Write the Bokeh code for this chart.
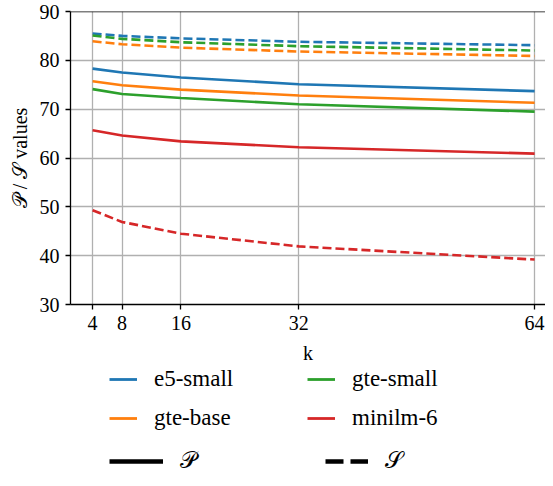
from bokeh.plotting import figure
from bokeh.layouts import column
from bokeh.models import Legend, LegendItem, Span, FixedTicker, Range1d
from bokeh.embed import file_html
from bokeh.resources import INLINE

# ---- data ----
k = [4, 8, 16, 32, 64]
models = ["e5-small", "gte-base", "gte-small", "minilm-6"]
colors = ["#1f77b4", "#ff7f0e", "#2ca02c", "#d62728"]

P_e5_small = [78.3, 77.5, 76.5, 75.1, 73.7]
P_gte_base = [75.7, 74.9, 74.0, 72.8, 71.3]
P_gte_small = [74.1, 73.1, 72.3, 71.0, 69.5]
P_minilm_6 = [65.7, 64.6, 63.4, 62.2, 60.9]

S_e5_small = [85.5, 85.0, 84.5, 83.8, 83.1]
S_gte_base = [83.9, 83.3, 82.6, 81.8, 80.9]
S_gte_small = [85.1, 84.4, 83.7, 82.9, 82.0]
S_minilm_6 = [49.3, 46.9, 44.5, 41.9, 39.2]

P_values = [P_e5_small, P_gte_base, P_gte_small, P_minilm_6]
S_values = [S_e5_small, S_gte_base, S_gte_small, S_minilm_6]

x_ticks = [4, 8, 16, 32, 64]
y_ticks = [30, 40, 50, 60, 70, 80, 90]
P_label = "\U0001D4AB"
S_label = "\U0001D4AE"
y_label = P_label + " / " + S_label + " values"

FONT = "Liberation Serif"

# ---------------- main plot ----------------
p = figure(width=545, height=366,
           x_range=Range1d(1, 65.48), y_range=Range1d(30, 90),
           min_border_left=70, min_border_right=0, min_border_top=11,
           min_border_bottom=61,
           output_backend="svg", toolbar_location=None)
p.outline_line_color = None
p.background_fill_color = "white"
p.border_fill_color = "white"

for g in (p.xgrid, p.ygrid):
    g.grid_line_color = "#b0b0b0"
    g.grid_line_width = 1.3
p.xaxis.ticker = FixedTicker(ticks=x_ticks)
p.yaxis.ticker = FixedTicker(ticks=y_ticks)

for ax in (p.xaxis, p.yaxis):
    ax.axis_line_color = "black"
    ax.axis_line_width = 1.3
    ax.major_tick_line_color = "black"
    ax.major_tick_line_width = 1.3
    ax.major_tick_out = 5
    ax.major_tick_in = 0
    ax.minor_tick_line_color = None
    ax.major_label_text_font = FONT
    ax.major_label_text_font_size = "20px"
    ax.major_label_text_color = "black"
    ax.axis_label_text_font = FONT
    ax.axis_label_text_font_size = "20px"
    ax.axis_label_text_font_style = "normal"
    ax.axis_label_text_color = "black"

p.xaxis.axis_label = "k"
p.xaxis.major_label_standoff = 6
p.xaxis.axis_label_standoff = 9
p.yaxis.axis_label = y_label
p.yaxis.major_label_standoff = 6
p.yaxis.axis_label_standoff = 6

# top spine
p.add_layout(Span(location=90, dimension="width", line_color="black", line_width=1.3))

for c, vals in zip(colors, P_values):
    p.line(k, vals, line_color=c, line_width=2.6)
for c, vals in zip(colors, S_values):
    p.line(k, vals, line_color=c, line_width=2.6, line_dash="9 4")

# ---------------- legend panel ----------------
# renderers here carry the series data but lie outside this panel's ranges,
# so only their legend glyphs are seen
lp = figure(width=545, height=112, x_range=Range1d(0, 1), y_range=Range1d(0, 1),
            x_axis_type=None, y_axis_type=None, min_border=0,
            output_backend="svg", toolbar_location=None)
lp.outline_line_color = None
lp.grid.visible = False
lp.border_fill_color = "white"
lp.background_fill_color = "white"

model_r = [lp.line(k, vals, line_color=c, line_width=2.8)
           for c, vals in zip(colors, P_values)]
r_solid = lp.line(k, P_e5_small, line_color="black", line_width=4.5)
r_dash = lp.line(k, S_e5_small, line_color="black", line_width=4.5, line_dash="18 7")

common = dict(glyph_height=24, label_height=24, label_standoff=17,
              spacing=13, padding=0, margin=0, border_line_color=None,
              background_fill_alpha=0, label_text_font=FONT,
              label_text_font_size="23px", label_text_color="black")

# x offsets are measured from the (aligned) frame left edge
legA = Legend(items=[LegendItem(label=models[0], renderers=[model_r[0]]),
                     LegendItem(label=models[1], renderers=[model_r[1]])],
              glyph_width=28, location=(39, 47), **common)
legB = Legend(items=[LegendItem(label=models[2], renderers=[model_r[2]]),
                     LegendItem(label=models[3], renderers=[model_r[3]])],
              glyph_width=28, location=(237, 47), **common)
legC = Legend(items=[LegendItem(label=P_label, renderers=[r_solid])],
              glyph_width=54, location=(39, 4), **common)
legD = Legend(items=[LegendItem(label=S_label, renderers=[r_dash])],
              glyph_width=43, location=(255, 4), **common)
for lg in (legA, legB, legC, legD):
    lp.add_layout(lg, "center")

layout = column(p, lp, spacing=0)
open("out.html", "w").write(file_html(layout, INLINE))
